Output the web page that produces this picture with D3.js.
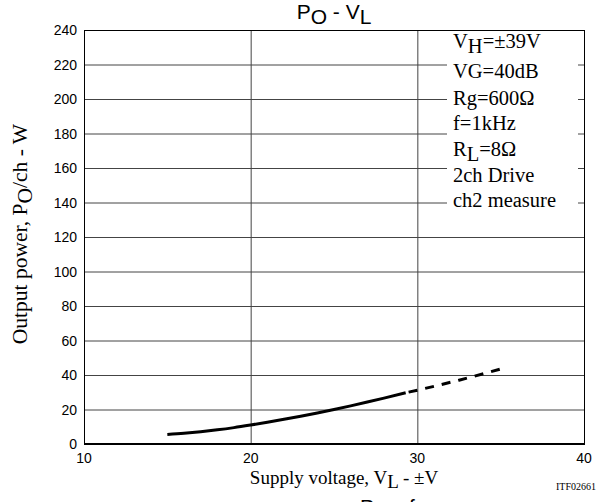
<!DOCTYPE html>
<html>
<head>
<meta charset="utf-8">
<script src="https://cdn.jsdelivr.net/npm/d3@7"></script>
<style>
  body { margin: 0; background: #fff; }
  svg { display: block; }
</style>
</head>
<body>
<svg id="chart" width="602" height="502"></svg>
<script>
// measured curve (VL in ±V, Po in W)
const solidV = [15, 16, 17, 18, 19, 20, 21, 22, 23, 24, 25, 26, 27, 28, 29.3];
const solidP = [5.5, 6.2, 7.1, 8.2, 9.5, 11, 12.6, 14.3, 16.1, 18, 20, 22.1, 24.3, 26.6, 29.7];
// extrapolated part
const dashV = [29.3, 30, 32.5, 35];
const dashP = [29.7, 31.2, 37, 43.5];

const xTicks = [10, 20, 30, 40];
const yTicks = [0, 20, 40, 60, 80, 100, 120, 140, 160, 180, 200, 220, 240];
const conditions = [
    ["V", "H", "=±39V"],
    ["VG=40dB"],
    ["Rg=600Ω"],
    ["f=1kHz"],
    ["R", "L", "=8Ω"],
    ["2ch Drive"],
    ["ch2 measure"]
];

const svg = d3.select("#chart");
const plotL = 84, plotR = 584, plotT = 30, plotB = 444;
const serif = "'Liberation Serif', 'Times New Roman', serif";
const sans = "'Liberation Sans', Arial, sans-serif";

const x = d3.scaleLinear().domain([10, 40]).range([plotL, plotR]);
const y = d3.scaleLinear().domain([0, 240]).range([plotB, plotT]);

// grid
const grid = svg.append("g").attr("stroke", "#444").attr("stroke-width", 1);
grid.selectAll("line.h")
    .data(yTicks.slice(1, -1))
    .enter().append("line")
    .attr("x1", plotL).attr("x2", plotR)
    .attr("y1", d => y(d) + 0.5).attr("y2", d => y(d) + 0.5);
grid.selectAll("line.v")
    .data(xTicks.slice(1, -1))
    .enter().append("line")
    .attr("y1", plotT).attr("y2", plotB)
    .attr("x1", d => x(d) + 0.5).attr("x2", d => x(d) + 0.5);

// frame
svg.append("rect")
    .attr("x", plotL + 0.5).attr("y", plotT + 0.5)
    .attr("width", plotR - plotL).attr("height", plotB - plotT)
    .attr("fill", "none").attr("stroke", "#000").attr("stroke-width", 1);
svg.append("line")
    .attr("x1", plotL).attr("x2", plotR + 1)
    .attr("y1", plotB).attr("y2", plotB)
    .attr("stroke", "#000").attr("stroke-width", 2);

// conditions box
svg.append("rect")
    .attr("x", 447).attr("y", plotT + 1)
    .attr("width", 131).attr("height", 183)
    .attr("fill", "#fff");

const cond = svg.append("g")
    .attr("font-family", serif)
    .attr("font-size", 20.5)
    .attr("fill", "#000");
conditions.forEach((c, i) => {
    const t = cond.append("text")
        .attr("x", 453)
        .attr("y", [48, 78, 105, 130, 156, 182, 207][i]);
    if (c.length === 1) {
        t.text(c[0]);
    } else {
        t.append("tspan").text(c[0]);
        t.append("tspan").attr("dy", 5).text(c[1]);
        t.append("tspan").attr("dy", -5).text(c[2]);
    }
});

// curve
const line = d3.line()
    .x(d => x(d[0]))
    .y(d => y(d[1]))
    .curve(d3.curveMonotoneX);

svg.append("path")
    .datum(solidV.map((v, i) => [v, solidP[i]]))
    .attr("d", line)
    .attr("fill", "none")
    .attr("stroke", "#000")
    .attr("stroke-width", 3);

svg.append("path")
    .datum(dashV.map((v, i) => [v, dashP[i]]))
    .attr("d", line)
    .attr("fill", "none")
    .attr("stroke", "#000")
    .attr("stroke-width", 3)
    .attr("stroke-dasharray", "0,3,9,5");

// tick labels
svg.append("g")
    .attr("font-family", sans).attr("font-size", 14)
    .selectAll("text")
    .data(yTicks)
    .enter().append("text")
    .attr("x", 77)
    .attr("y", d => y(d) + 5)
    .attr("text-anchor", "end")
    .text(d => d);

svg.append("g")
    .attr("font-family", sans).attr("font-size", 14)
    .selectAll("text")
    .data(xTicks)
    .enter().append("text")
    .attr("x", d => x(d))
    .attr("y", 463)
    .attr("text-anchor", "middle")
    .text(d => d);

// title
const title = svg.append("text")
    .attr("x", 334).attr("y", 19)
    .attr("text-anchor", "middle")
    .attr("font-family", sans).attr("font-size", 21);
title.append("tspan").text("P");
title.append("tspan").attr("dy", 5).text("O");
title.append("tspan").attr("dy", -5).text(" - V");
title.append("tspan").attr("dy", 5).text("L");

// axis titles
const xl = svg.append("text")
    .attr("x", 344).attr("y", 484)
    .attr("text-anchor", "middle")
    .attr("font-family", serif).attr("font-size", 19);
xl.append("tspan").text("Supply voltage, V");
xl.append("tspan").attr("dy", 4).text("L");
xl.append("tspan").attr("dy", -4).text(" - ±V");

const yl = svg.append("text")
    .attr("transform", "translate(27,234) rotate(-90)")
    .attr("text-anchor", "middle")
    .attr("font-family", serif).attr("font-size", 21.5);
yl.append("tspan").text("Output power, P");
yl.append("tspan").attr("dy", 5).text("O");
yl.append("tspan").attr("dy", -5).text("/ch - W");

svg.append("text")
    .attr("x", 556).attr("y", 490)
    .attr("font-family", serif).attr("font-size", 10)
    .text("ITF02661");

// next chart's title, cut off by the page edge
const next = svg.append("text")
    .attr("x", 360).attr("y", 514)
    .attr("font-family", sans).attr("font-size", 21);
next.append("tspan").text("P");
next.append("tspan").attr("dy", 5).text("O");
next.append("tspan").attr("dy", -5).text(" - f");
</script>
</body>
</html>
